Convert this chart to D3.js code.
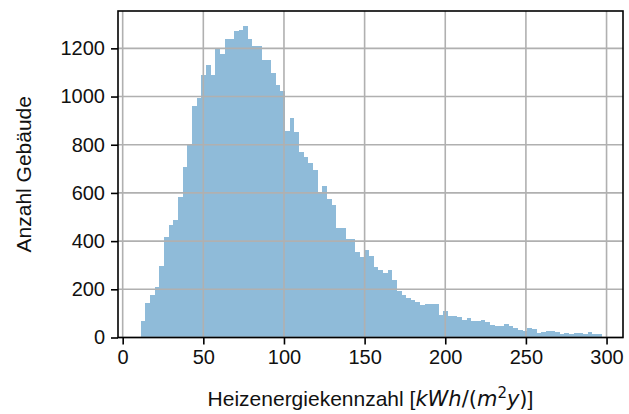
<!DOCTYPE html>
<html>
<head>
<meta charset="utf-8">
<script src="https://cdn.jsdelivr.net/npm/d3@7"></script>
<style>
  body { margin: 0; background: #fff; }
  text { font-family: "Liberation Sans", Arial, sans-serif; }
</style>
</head>
<body>
<div id="chart"></div>
<script>
// Histogramm: Anzahl Gebäude je Klasse der Heizenergiekennzahl
const counts = [
    67, 144, 175, 210, 298, 418, 467, 488, 582, 709,
    805, 960, 996, 1088, 1130, 1088, 1199, 1178, 1240, 1240,
    1271, 1277, 1291, 1240, 1208, 1208, 1150, 1150, 1099, 1047,
    1023, 856, 909, 854, 768, 750, 725, 695, 605, 630,
    575, 550, 454, 454, 408, 408, 355, 334, 364, 339,
    292, 281, 268, 281, 240, 192, 175, 164, 154, 146,
    134, 137, 137, 137, 95, 109, 91, 88, 84, 74,
    79, 70, 67, 72, 63, 51, 47, 47, 54, 47,
    40, 31, 28, 38, 34, 20, 24, 28, 28, 21,
    14, 19, 16, 17, 17, 14, 21, 14, 16
];
const binStart = 11.2;   // linke Kante der ersten Klasse
const binWidth = 2.887;  // Klassenbreite in kWh/(m²y)

const xTicks = [0, 50, 100, 150, 200, 250, 300];
const yTicks = [0, 200, 400, 600, 800, 1000, 1200];

const margin = { top: 11, right: 6, bottom: 76.5, left: 118 };
const width = 629 - margin.left - margin.right;
const height = 414 - margin.top - margin.bottom;

const svg = d3.select("#chart")
    .append("svg")
    .attr("width", 629)
    .attr("height", 414);

const g = svg.append("g")
    .attr("transform", "translate(" + margin.left + "," + margin.top + ")");

const x = d3.scaleLinear().domain([-2.9, 310.2]).range([0, width]);
const y = d3.scaleLinear().domain([0, 1355]).range([height, 0]);

const bins = counts.map((c, i) => ({
    x0: binStart + i * binWidth,
    x1: binStart + (i + 1) * binWidth,
    count: c
}));

// Balken (C0 mit alpha 0.5)
g.selectAll(".bar")
    .data(bins)
    .enter().append("rect")
    .attr("class", "bar")
    .attr("x", d => x(d.x0))
    .attr("y", d => y(d.count))
    .attr("width", d => x(d.x1) - x(d.x0))
    .attr("height", d => y(0) - y(d.count))
    .attr("fill", "#1f77b4")
    .attr("fill-opacity", 0.5)
    .attr("shape-rendering", "crispEdges");

// Gitterlinien über den Balken
g.append("g")
    .selectAll("line")
    .data(xTicks)
    .enter().append("line")
    .attr("x1", d => x(d)).attr("x2", d => x(d))
    .attr("y1", 0).attr("y2", height)
    .attr("stroke", "#b0b0b0")
    .attr("stroke-width", 1.6);

g.append("g")
    .selectAll("line")
    .data(yTicks)
    .enter().append("line")
    .attr("x1", 0).attr("x2", width)
    .attr("y1", d => y(d)).attr("y2", d => y(d))
    .attr("stroke", "#b0b0b0")
    .attr("stroke-width", 1.6);

// Achsen
const xAxis = g.append("g")
    .attr("transform", "translate(0," + height + ")")
    .call(d3.axisBottom(x).tickValues(xTicks).tickFormat(d3.format("d")).tickSize(7).tickPadding(5));

const yAxis = g.append("g")
    .call(d3.axisLeft(y).tickValues(yTicks).tickFormat(d3.format("d")).tickSize(7).tickPadding(6));

[xAxis, yAxis].forEach(a => {
    a.select(".domain").remove();
    a.selectAll(".tick line").attr("stroke", "#000").attr("stroke-width", 1.6);
    a.selectAll(".tick text")
        .attr("font-size", 20)
        .attr("fill", "#111")
        .style("font-family", "'Liberation Sans', Arial, sans-serif");
});

// Rahmen
g.append("rect")
    .attr("x", 0).attr("y", 0)
    .attr("width", width).attr("height", height)
    .attr("fill", "none")
    .attr("stroke", "#000")
    .attr("stroke-width", 1.6);

// Achsenbeschriftungen
const xl = svg.append("text")
    .attr("x", margin.left + width / 2)
    .attr("y", 406)
    .attr("text-anchor", "middle")
    .attr("font-size", 21)
    .attr("fill", "#111");
xl.append("tspan").text("Heizenergiekennzahl [");
const m = "font-family:'DejaVu Sans',sans-serif;font-style:italic";
xl.append("tspan").attr("style", m).text("kWh");
xl.append("tspan").attr("style", "font-family:'DejaVu Sans',sans-serif").text("/(");
xl.append("tspan").attr("style", m).text("m");
xl.append("tspan").attr("style", "font-family:'DejaVu Sans',sans-serif").attr("font-size", 15).attr("dy", -8).text("2");
xl.append("tspan").attr("style", m).attr("dy", 8).text("y");
xl.append("tspan").attr("style", "font-family:'DejaVu Sans',sans-serif").text(")");
xl.append("tspan").text("]");

svg.append("text")
    .attr("transform", "translate(31," + (margin.top + height / 2) + ") rotate(-90)")
    .attr("text-anchor", "middle")
    .attr("font-size", 21)
    .attr("fill", "#111")
    .text("Anzahl Gebäude");
</script>
</body>
</html>
